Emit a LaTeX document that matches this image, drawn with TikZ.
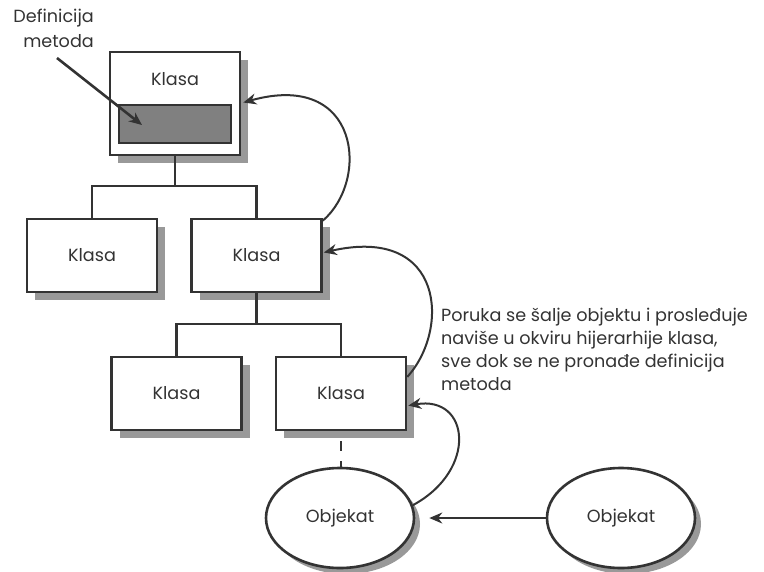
\documentclass[tikz,border=0pt]{standalone}
\usepackage{fontspec}
\setmainfont{Poppins}
\usetikzlibrary{shapes.geometric,shadows,arrows.meta,calc}
\definecolor{ink}{HTML}{333333}
\definecolor{shade}{HTML}{999999}
\definecolor{method}{HTML}{808080}
\begin{document}
\begin{tikzpicture}[x=1pt,y=-1pt,
  txt/.style={font=\fontsize{17.6}{23}\selectfont, text=ink},
  klasa/.style={draw=ink, line width=2.6pt, fill=white, rectangle,
    minimum width=130pt, minimum height=73pt, inner sep=0pt, txt,
    drop shadow={shadow xshift=8pt, shadow yshift=-8pt, fill=shade, opacity=1}},
  objekat/.style={draw=ink, line width=2.6pt, fill=white, ellipse,
    minimum width=148pt, minimum height=100pt, inner sep=0pt, txt,
    drop shadow={shadow xshift=6pt, shadow yshift=-6pt, fill=shade, opacity=1}},
  tree/.style={draw=ink, line width=2.6pt},
  send/.style={draw=ink, line width=2pt, -{Stealth[length=13pt, width=11pt]}}
]
\useasboundingbox (0,0) rectangle (764,571);

% root class with its method definition
\node[klasa, minimum height=103pt] (top) at (175,103.5) {};
\node[txt] (toplabel) at (175,79) {Klasa};
\node[draw=ink, line width=2.6pt, fill=method, minimum width=112pt,
      minimum height=38pt, inner sep=0pt] (method) at (175,124) {};

% second level
\node[klasa] (k21) at (92,255.5) {Klasa};
\node[klasa] (k22) at (256.5,255.5) {Klasa};

% third level
\node[klasa] (k31) at (176.5,393.5) {Klasa};
\node[klasa] (k32) at (341,393.5) {Klasa};

% objects
\node[objekat] (o1) at (340,518) {Objekat};
\node[objekat] (o2) at (621,518) {Objekat};

% hierarchy lines
\coordinate (j1) at (175,186);
\coordinate (j2) at (256.5,324);
\draw[tree] (top.south) -- (j1);
\draw[tree] (k21.north) |- (j1) -| (k22.north);
\draw[tree] (k22.south) -- (j2);
\draw[tree] (k31.north) |- (j2) -| (k32.north);
\draw[tree, dash pattern=on 10pt off 10pt, dash phase=10pt] (k32.south) -- (k32.south |- o1.north);

% label for the method definition
\node[txt, font=\fontsize{17.6}{25}\selectfont, align=right, anchor=north east, inner sep=0pt]
  (deflabel) at (94,9) {Definicija\\metoda};
\coordinate (defstart) at (57,58);
\draw[send, line width=2.6pt] (defstart) -- ($(method.center)+(-33,1)$);

% message passing
\draw[send] (o2.west) -- ($(o1.east)+(14,0)$);
\draw[send] (o1.10) .. controls (478,470) and (470,395) .. ($(k32.north east)!0.66!(k32.south east)+(1,0)$);
\draw[send] ($(k32.north east)!0.28!(k32.south east)$) .. controls (450,330) and (445,225) .. ($(k22.north east)!0.46!(k22.south east)+(1,0)$);
\draw[send] ($(k22.north east)+(0,3)$) .. controls (370,180) and (360,70) .. ($(top.east)+(2,-1)$);

% explanation
\node[txt, align=left, anchor=north west, inner sep=0pt] (msg) at (441,308)
  {Poruka se šalje objektu i prosleđuje\\
   naviše u okviru hijerarhije klasa,\\
   sve dok se ne pronađe definicija\\
   metoda};
\end{tikzpicture}
\end{document}
